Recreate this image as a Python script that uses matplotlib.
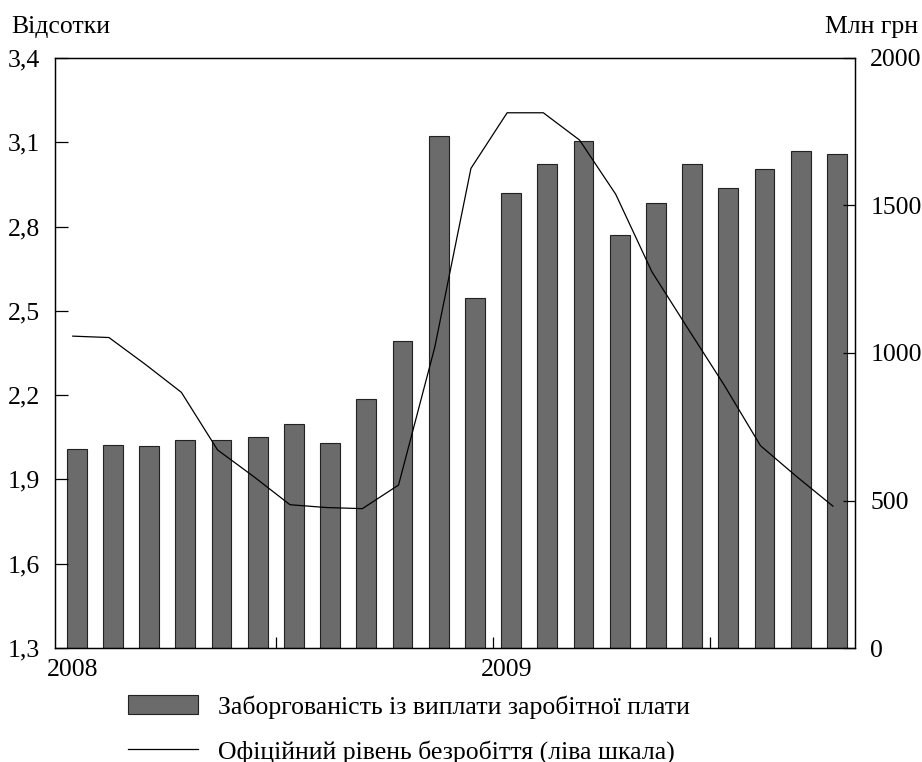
import numpy as np
import pandas as pd
import matplotlib
matplotlib.use("Agg")
import matplotlib.pyplot as plt
from matplotlib.ticker import FuncFormatter, FixedLocator

plt.rcParams['font.family'] = ['Liberation Serif', 'DejaVu Serif']

# months Jan 2008 .. Oct 2009
months = pd.date_range("2008-01-01", "2009-10-01", freq="MS")

# wage arrears, mln UAH (right scale)
arrears = [674, 687, 686, 706, 706, 716, 758, 696, 844, 1041, 1737,
           1188, 1541, 1641, 1720, 1400, 1507, 1641, 1559, 1625, 1686, 1676]

# official unemployment rate, % (left scale)
unemployment = [2.41, 2.405, 2.31, 2.21, 2.005, 1.91, 1.81, 1.80, 1.796, 1.88, 2.37,
                3.007, 3.205, 3.205, 3.108, 2.915, 2.639, 2.436, 2.235, 2.02, 1.91, 1.805]

year_labels = ["2008", "2009"]

bar_label = "Заборгованість із виплати заробітної плати"
line_label = "Офіційний рівень безробіття (ліва шкала)"

fs = 18.5
x = np.arange(len(months))

fig = plt.figure(figsize=(9.22, 7.62), dpi=100)
ax = fig.add_axes([0.0597, 0.1496, 0.8676, 0.7743])
ax2 = ax.twinx()

bars = ax2.bar(x, arrears, width=0.55, color="#6b6b6b", edgecolor="#222222", linewidth=0.8)
line, = ax.plot(x - 0.11, unemployment, color="black", linewidth=0.9)

ax.set_zorder(ax2.get_zorder() + 1)
ax.patch.set_visible(False)

ax.set_xlim(-0.6, 21.5)
ax.set_ylim(1.3, 3.4)
ax2.set_ylim(0, 2000)
ax.set_yticks(np.arange(1.3, 3.41, 0.3))
ax2.set_yticks([0, 500, 1000, 1500, 2000])
ax.yaxis.set_major_formatter(FuncFormatter(lambda v, p: f"{v:.1f}".replace(".", ",")))

# year boundary ticks (inside), labels slightly to the right
ax.xaxis.set_major_locator(FixedLocator([5.5, 11.5, 17.5]))
ax.xaxis.set_major_formatter(FuncFormatter(lambda v, p: ""))
ax.xaxis.set_minor_locator(FixedLocator([-0.12, 11.88]))
ax.set_xticklabels(year_labels, minor=True)
ax.tick_params(axis="x", which="major", direction="in", length=8, width=0.9)
ax.tick_params(axis="x", which="minor", length=0, pad=8, labelsize=fs)

ax.tick_params(axis="y", direction="in", length=9, width=0.9, pad=11, labelsize=fs)
ax2.tick_params(axis="y", direction="in", length=9, width=0.9, pad=11, labelsize=fs)

for a in (ax, ax2):
    for s in a.spines.values():
        s.set_linewidth(0.9)

fig.text(11 / 922, 1 - 27 / 762, "Відсотки", fontsize=fs, va="center", ha="left")
fig.text(918 / 922, 1 - 27 / 762, "Млн грн", fontsize=fs, va="center", ha="right")

fig.legend([bars, line], [bar_label, line_label], loc="upper left",
           bbox_to_anchor=(105 / 922, 1 - 672 / 762), frameon=False, fontsize=fs,
           handlelength=2.7, handleheight=0.75, handletextpad=0.8, labelspacing=0.82)

fig.savefig("out.png", dpi=100)
